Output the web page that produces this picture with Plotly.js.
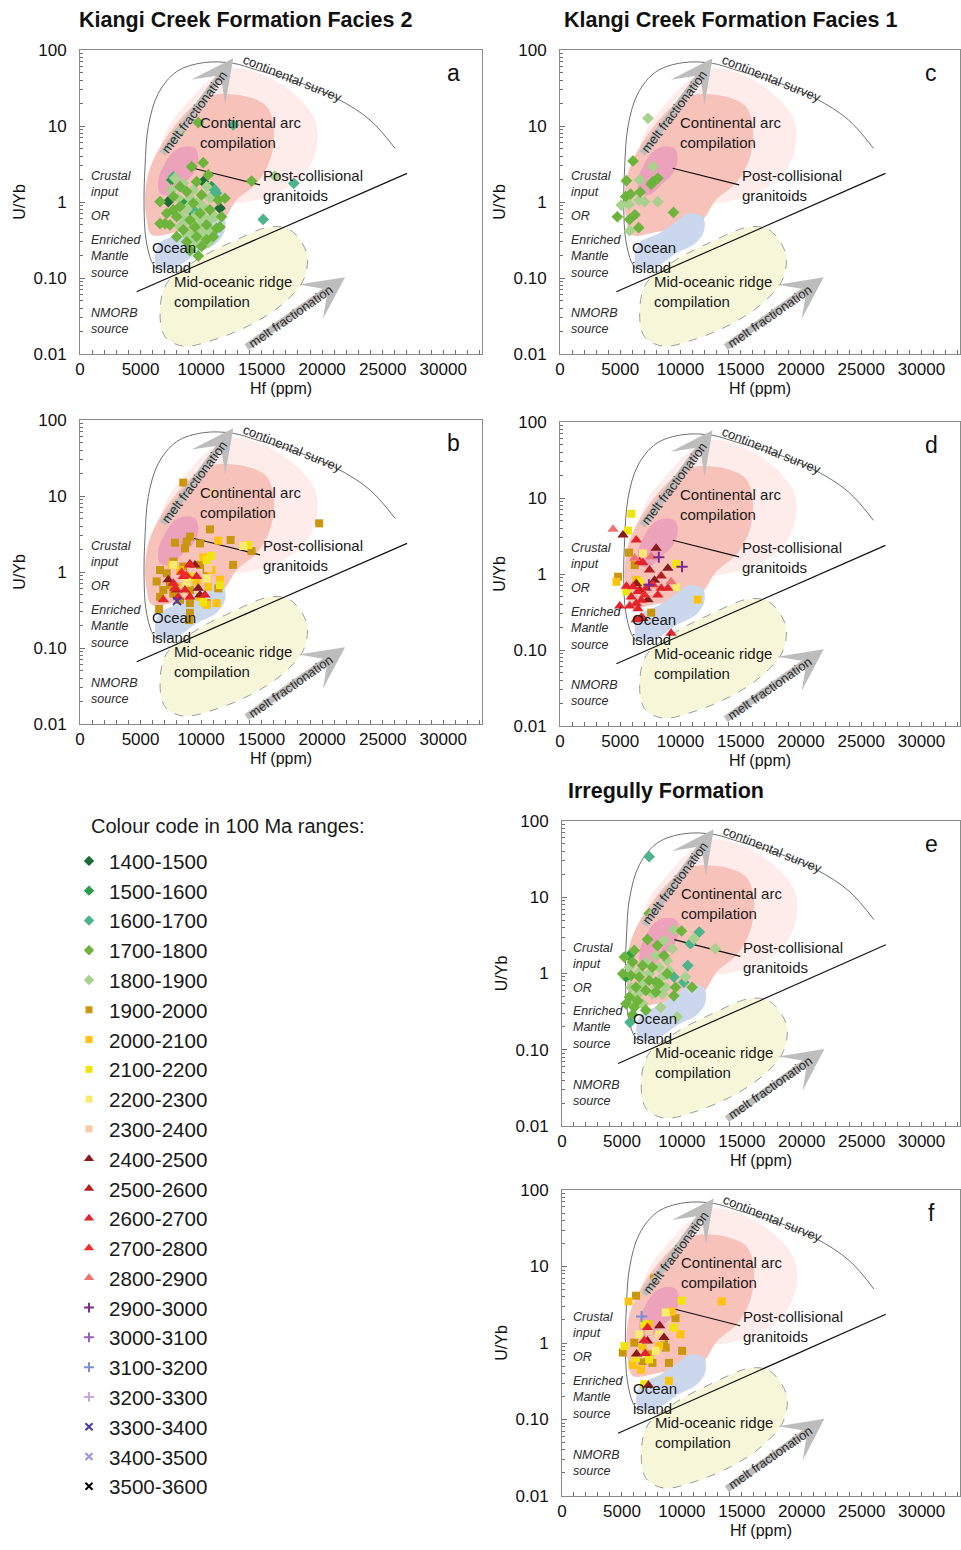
<!DOCTYPE html>
<html>
<head>
<meta charset="utf-8">
<script src="https://cdn.plot.ly/plotly-3.0.1.min.js"></script>
<style>html,body{margin:0;padding:0;background:#fff}</style>
</head>
<body>
<div id="chart" style="width:961px;height:1550px"></div>
<script>
// ---------------- age ranges (legend) ----------------
const ageRanges = ['1400-1500','1500-1600','1600-1700','1700-1800','1800-1900',
  '1900-2000','2000-2100','2100-2200','2200-2300','2300-2400',
  '2400-2500','2500-2600','2600-2700','2700-2800','2800-2900',
  '2900-3000','3000-3100','3100-3200','3200-3300','3300-3400','3400-3500','3500-3600'];

// ---------------- tick labels ----------------
const hfTicks = [0, 5000, 10000, 15000, 20000, 25000, 30000];
const uybTicks = [0.01, 0.1, 1, 10, 100];
const uybTickText = ['0.01', '0.10', '1', '10', '100'];

// ---------------- Panel a: Kiangi Creek Formation Facies 2 ----------------
const a1400_hf = [10180, 11560, 7290];
const a1400_uyb = [1.85, 0.83, 1.01];
const a1500_hf = [7570, 9080, 8530, 10870];
const a1500_uyb = [1.95, 0.79, 0.96, 1.59];
const a1600_hf = [12660, 17660, 15130, 11140, 11280, 10870, 9360, 7710];
const a1600_uyb = [10.3, 1.76, 0.59, 1.44, 1.30, 1.18, 0.79, 2.15];
const a1700_hf = [9770, 8200, 14170, 9770, 9220, 10180, 10590, 9630, 8260, 6610, 7710, 8810, 10040, 11420,
  11970, 7020, 7980, 9080, 9910, 10730, 11690, 8530, 9490, 10460, 11280, 7430, 8260, 9360, 7160, 8810,
  9630, 10460, 7980, 10040, 9080, 11010, 11560, 6610, 7710];
const a1700_uyb = [11.1, 8.4, 1.89, 0.195, 2.92, 3.29, 2.27, 1.85, 1.59, 1.01, 1.18, 1.37, 1.24, 1.06,
  1.12, 0.52, 0.64, 0.58, 0.71, 0.79, 0.64, 0.43, 0.47, 0.50, 0.45, 0.50, 0.87, 0.96, 0.71, 0.30,
  0.35, 0.32, 0.35, 0.26, 0.23, 0.35, 0.47, 0.52, 0.79];
const a1800_hf = [16090, 7840, 8530, 9360, 10460, 7570, 8120, 9080, 9770, 10730, 8810, 10180, 7840, 9490,
  10320, 11140, 8670, 9770, 10730, 9080, 10040, 10870, 8260, 9360, 10180, 8810, 9770, 10590, 9360, 8390, 9080];
const a1800_uyb = [2.20, 2.05, 1.76, 1.44, 1.59, 1.44, 1.12, 1.12, 1.01, 1.12, 0.79, 0.87, 0.71, 0.64,
  0.61, 0.64, 0.55, 0.52, 0.58, 0.43, 0.41, 0.41, 0.47, 0.35, 0.37, 0.37, 0.30, 0.29, 0.27, 0.64, 0.91];

// ---------------- Panel b ----------------
const b1900_hf = [9080, 8810, 7840, 8670, 9910, 6610, 7160, 6330, 7430, 6880, 7710, 8530, 9910, 10460, 6610,
  7710, 9080, 8260, 9080, 10460, 11420, 9080, 8530, 19750, 10730, 12440, 14170, 9000, 6530, 12640];
const b1900_uyb = [2.92, 2.51, 2.43, 2.05, 2.38, 1.06, 0.96, 0.75, 0.67, 0.58, 1.37, 1.18, 1.24, 1.06, 0.47,
  0.52, 0.58, 0.43, 0.39, 0.39, 0.61, 0.29, 15.0, 4.37, 3.64, 2.64, 1.89, 0.233, 0.326, 1.24];
const b2000_hf = [11420, 10180, 8260, 9630, 10590, 11280, 10460, 9910, 7980, 10870, 11560, 7570];
const b2000_uyb = [2.58, 1.56, 1.06, 0.75, 0.64, 0.39, 0.37, 0.47, 0.64, 1.06, 0.79, 1.24];
const b2100_hf = [13890, 10810, 10460, 9080, 10180, 11560];
const b2100_uyb = [2.27, 1.63, 1.44, 0.87, 0.40, 0.67];
const b2200_hf = [13480, 7710, 8810, 10460];
const b2200_uyb = [2.20, 1.24, 0.72, 0.82];
const b2300_hf = [10950, 10590, 8530];
const b2300_uyb = [11.1, 1.12, 0.52];
const b2400_hf = [7290, 9490, 9770, 9910];
const b2400_uyb = [0.79, 1.24, 0.61, 0.50];
const b2500_hf = [9080, 7980];
const b2500_uyb = [1.27, 0.58];
const b2600_hf = [9080, 8530, 7840, 7710, 8670, 9630, 10320, 6880, 8120, 9080];
const b2600_uyb = [1.24, 0.87, 0.61, 0.71, 0.58, 0.87, 0.50, 0.43, 0.47, 0.47];
const b2700_hf = [8810, 8390];
const b2700_uyb = [0.90, 0.99];
const b3300_hf = [8010];
const b3300_uyb = [0.415];

// ---------------- Panel c: Klangi Creek Formation Facies 1 ----------------
const c1700_hf = [6060, 5510, 5450, 5860, 6660, 7710, 7570, 8120, 4760, 5780, 6220, 6530, 9420];
const c1700_uyb = [3.47, 1.91, 1.18, 1.27, 1.35, 1.85, 1.71, 2.05, 0.64, 0.59, 0.68, 0.46, 0.73];
const c1800_hf = [7300, 7710, 6610, 5090, 5730, 6550, 7020, 8120, 5780];
const c1800_uyb = [12.6, 2.92, 1.95, 0.91, 0.93, 1.06, 1.01, 1.01, 0.42];

// ---------------- Panel d ----------------
const d1900_hf = [5730, 6200, 4820, 7570];
const d1900_uyb = [1.91, 1.31, 0.92, 0.31];
const d2000_hf = [4680, 11430, 6330];
const d2000_uyb = [0.79, 0.46, 0.83];
const d2100_hf = [5920, 5640, 9640, 5510, 6610];
const d2100_uyb = [6.2, 3.72, 1.36, 0.59, 0.79];
const d2200_hf = [9640, 6880];
const d2200_uyb = [0.67, 1.87];
const d2400_hf = [5230, 7980, 8950, 7850, 7300, 6330, 6880];
const d2400_uyb = [3.26, 2.18, 1.19, 0.83, 0.46, 0.75, 0.26];
const d2500_hf = [7430, 8400, 6610];
const d2500_uyb = [1.13, 0.94, 0.62];
const d2600_hf = [6330, 6610, 6880, 5510, 6060, 5920, 6470, 7160, 8400, 8950, 8120, 6750, 6330, 4960, 5780, 6470, 6750, 6330, 9220];
const d2600_uyb = [2.80, 1.45, 1.41, 0.69, 0.68, 0.50, 0.59, 0.65, 0.65, 0.65, 0.53, 0.45, 0.41, 0.38, 0.38, 0.35, 0.27, 0.25, 0.166];
const d2700_hf = [7710, 7020];
const d2700_uyb = [0.72, 0.53];
const d2800_hf = [4400, 7570, 9220, 6200];
const d2800_uyb = [3.87, 1.69, 0.79, 1.61];
const d2900_hf = [8200, 10130, 7380];
const d2900_uyb = [1.66, 1.25, 0.72];

// ---------------- Panel e: Irregully Formation ----------------
const e1500_hf = [5620, 5340];
const e1500_uyb = [1.72, 0.90];
const e1600_hf = [7270, 11450, 10710, 10490, 9330, 10160, 5670];
const e1600_uyb = [34.0, 3.50, 2.46, 1.27, 0.90, 0.77, 0.229];
const e1700_hf = [7270, 9970, 7130, 7960, 8510, 6030, 5200, 5890, 6720, 7540, 5070, 5750, 6440, 7270, 8100,
  8780, 9470, 10850, 6170, 6990, 7820, 5620, 6310, 5340, 6030, 6990, 5890, 7820, 9330];
const e1700_uyb = [6.1, 3.61, 2.80, 2.33, 1.72, 2.01, 1.64, 1.41, 1.27, 1.21, 0.99, 0.94, 0.90, 0.81, 0.73,
  0.99, 0.66, 0.66, 0.66, 0.60, 0.57, 0.49, 0.44, 0.40, 0.36, 0.33, 0.29, 0.77, 0.51];
const e1800_hf = [9330, 8510, 10990, 12780, 9200, 7820, 8780, 6990, 8100, 8920, 6440, 7270, 8370, 5620, 10300,
  7820, 8650, 6720, 6310, 7540, 8370, 5750, 6720, 8230, 9610, 5890];
const e1800_uyb = [3.76, 2.72, 2.86, 2.11, 2.11, 1.72, 1.48, 1.41, 1.21, 1.09, 1.04, 0.99, 0.90, 1.21, 0.90,
  0.66, 0.66, 0.73, 0.54, 0.54, 0.54, 0.66, 0.40, 0.36, 0.27, 0.44];

// ---------------- Panel f ----------------
const f1900_hf = [6170, 7680, 9470, 5070, 10020, 8650, 8510, 7270, 8920, 7540, 6720, 6030];
const f1900_uyb = [4.15, 7.0, 2.11, 0.75, 0.79, 0.87, 1.06, 0.71, 0.55, 0.55, 0.58, 1.01];
const f2000_hf = [5560, 13330, 7270, 9880, 6720, 8100, 5890, 8920, 6580, 9140];
const f2000_uyb = [3.50, 3.50, 1.76, 1.30, 0.87, 0.91, 0.52, 0.32, 0.45, 2.58];
const f2100_hf = [9970, 6860, 9330, 5200, 7270, 6860, 6170];
const f2100_uyb = [3.57, 1.76, 1.59, 0.91, 0.61, 0.29, 0.64];
const f2200_hf = [8650, 6440, 8100, 7820];
const f2200_uyb = [2.51, 1.30, 1.30, 0.79];
const f2300_hf = [7270, 8230, 6580];
const f2300_uyb = [1.44, 1.18, 0.71];
const f2400_hf = [8150, 8510, 6220, 7130, 7210];
const f2400_uyb = [1.68, 1.18, 0.72, 1.06, 0.28];
const f2600_hf = [7130, 6940, 6860];
const f2600_uyb = [1.59, 0.73, 1.08];
const f3100_hf = [6640];
const f3100_uyb = [2.22];

// ---------------- reference fields (Hf ppm, U/Yb) ----------------
const arcOuter_hf  = [12660, 15140, 17620, 19410, 19550, 18580, 16790, 14590, 12110, 10190, 8260, 6610, 7160, 8810, 10740, 12660];
const arcOuter_uyb = [57.4, 46.9, 26.9, 12.0, 5.34, 2.38, 1.44, 1.06, 0.96, 1.17, 1.95, 3.95, 8.86, 19.9, 40.3, 57.4];
const arc_hf  = [11010, 13770, 15420, 16020, 15690, 14590, 12940, 11840, 10740, 8260, 5920, 5510, 5370, 5640, 6470, 7980, 9640, 11010];
const arc_uyb = [25.6, 24.3, 18.0, 8.85, 3.57, 1.76, 1.06, 0.58, 0.47, 0.41, 0.37, 0.58, 1.17, 2.38, 4.83, 10.8, 19.9, 25.6];
const postColl_hf  = [8530, 9500, 9770, 9360, 8530, 7430, 6610, 6470, 6880, 7710, 8530];
const postColl_uyb = [5.34, 5.08, 3.57, 2.38, 1.76, 1.24, 1.30, 1.95, 2.92, 4.59, 5.34];
const ocean_hf  = [10740, 11840, 11980, 11290, 9640, 7980, 6470, 6190, 6610, 8260, 9640, 10740];
const ocean_uyb = [0.71, 0.64, 0.43, 0.29, 0.211, 0.141, 0.134, 0.191, 0.29, 0.39, 0.55, 0.71];
const mor_hf  = [15690, 17340, 18720, 18450, 16790, 14320, 11010, 8530, 7020, 6610, 7160, 9640, 12390, 15690];
const mor_uyb = [0.47, 0.43, 0.211, 0.094, 0.0464, 0.0253, 0.0153, 0.0127, 0.0169, 0.0343, 0.085, 0.173, 0.29, 0.47];
const survey_hf  = [26020, 23950, 21200, 17890, 14590, 12660, 10190, 7980, 6470, 5640, 5370, 5290, 5450, 5920, 6390];
const survey_uyb = [5.08, 12.0, 23.1, 38.3, 54.6, 66.8, 68.1, 51.9, 26.9, 9.80, 2.92, 0.87, 0.32, 0.164, 0.127];
const divider_hf  = [4680, 27010];
const divider_uyb = [0.066, 2.38];
const pointer_hf  = [9360, 14870];
const pointer_uyb = [2.78, 1.68];
const meltUp_hf  = [6745, 12660];   // tail, head
const meltUp_uyb = [4.15, 77.7];
const meltLow_hf  = [13630, 21890];
const meltLow_uyb = [0.0119, 0.102];

// ---------------- styles ----------------
const FONT = 'Arial, "Liberation Sans", Helvetica, sans-serif';
const ageStyle = {
  '1400-1500': {symbol: 'diamond', color: '#1d6a36'},
  '1500-1600': {symbol: 'diamond', color: '#2b9c49'},
  '1600-1700': {symbol: 'diamond', color: '#4cb48b'},
  '1700-1800': {symbol: 'diamond', color: '#6cb43c'},
  '1800-1900': {symbol: 'diamond', color: '#a8d18d'},
  '1900-2000': {symbol: 'square', color: '#c9960d'},
  '2000-2100': {symbol: 'square', color: '#ffc20e'},
  '2100-2200': {symbol: 'square', color: '#f0e40c'},
  '2200-2300': {symbol: 'square', color: '#f6ea6f'},
  '2300-2400': {symbol: 'square', color: '#fbcaa2'},
  '2400-2500': {symbol: 'triangle-up', color: '#8a1a1a'},
  '2500-2600': {symbol: 'triangle-up', color: '#b41f20'},
  '2600-2700': {symbol: 'triangle-up', color: '#e3232a'},
  '2700-2800': {symbol: 'triangle-up', color: '#ef2d2d'},
  '2800-2900': {symbol: 'triangle-up', color: '#ee7272'},
  '2900-3000': {symbol: 'cross-thin', color: '#7a2b8d'},
  '3000-3100': {symbol: 'cross-thin', color: '#9a5fb7'},
  '3100-3200': {symbol: 'cross-thin', color: '#7b8cd3'},
  '3200-3300': {symbol: 'cross-thin', color: '#c6a7dd'},
  '3300-3400': {symbol: 'x-thin', color: '#4a3aa2'},
  '3400-3500': {symbol: 'x-thin', color: '#9a92d8'},
  '3500-3600': {symbol: 'x-thin', color: '#000000'}
};

const W = 961, H = 1550;
const panels = [
  {key: 'a', xa: 'x',  ya: 'y',  l: 80,  r: 482, t: 50,   b: 354,
   groups: [['1400-1500', a1400_hf, a1400_uyb], ['1500-1600', a1500_hf, a1500_uyb], ['1600-1700', a1600_hf, a1600_uyb],
            ['1800-1900', a1800_hf, a1800_uyb], ['1700-1800', a1700_hf, a1700_uyb]]},
  {key: 'b', xa: 'x2', ya: 'y2', l: 80,  r: 482, t: 420,  b: 724,
   groups: [['1900-2000', b1900_hf, b1900_uyb], ['2000-2100', b2000_hf, b2000_uyb], ['2100-2200', b2100_hf, b2100_uyb],
            ['2200-2300', b2200_hf, b2200_uyb], ['2300-2400', b2300_hf, b2300_uyb], ['2400-2500', b2400_hf, b2400_uyb],
            ['2500-2600', b2500_hf, b2500_uyb], ['2600-2700', b2600_hf, b2600_uyb], ['2700-2800', b2700_hf, b2700_uyb],
            ['3300-3400', b3300_hf, b3300_uyb]]},
  {key: 'c', xa: 'x3', ya: 'y3', l: 560, r: 960, t: 50,   b: 354,
   groups: [['1800-1900', c1800_hf, c1800_uyb], ['1700-1800', c1700_hf, c1700_uyb]]},
  {key: 'd', xa: 'x4', ya: 'y4', l: 560, r: 960, t: 422,  b: 726,
   groups: [['1900-2000', d1900_hf, d1900_uyb], ['2000-2100', d2000_hf, d2000_uyb], ['2100-2200', d2100_hf, d2100_uyb],
            ['2200-2300', d2200_hf, d2200_uyb], ['2400-2500', d2400_hf, d2400_uyb], ['2500-2600', d2500_hf, d2500_uyb],
            ['2600-2700', d2600_hf, d2600_uyb], ['2700-2800', d2700_hf, d2700_uyb], ['2800-2900', d2800_hf, d2800_uyb],
            ['2900-3000', d2900_hf, d2900_uyb]]},
  {key: 'e', xa: 'x5', ya: 'y5', l: 562, r: 960, t: 821,  b: 1126,
   groups: [['1500-1600', e1500_hf, e1500_uyb], ['1600-1700', e1600_hf, e1600_uyb],
            ['1800-1900', e1800_hf, e1800_uyb], ['1700-1800', e1700_hf, e1700_uyb]]},
  {key: 'f', xa: 'x6', ya: 'y6', l: 562, r: 960, t: 1190, b: 1496,
   groups: [['1900-2000', f1900_hf, f1900_uyb], ['2000-2100', f2000_hf, f2000_uyb], ['2100-2200', f2100_hf, f2100_uyb],
            ['2200-2300', f2200_hf, f2200_uyb], ['2300-2400', f2300_hf, f2300_uyb], ['2400-2500', f2400_hf, f2400_uyb],
            ['2600-2700', f2600_hf, f2600_uyb], ['3100-3200', f3100_hf, f3100_uyb]]}
];

function markerFor(age, size) {
  const s = ageStyle[age];
  const thin = s.symbol.indexOf('thin') >= 0;
  const sz = s.symbol === 'triangle-up' ? size + 2 : (s.symbol === 'diamond' ? size + 1 : size);
  return {symbol: s.symbol, color: s.color, size: sz,
          line: thin ? {width: 2, color: s.color} : {width: 0}};
}

const traces = [];
// legend entries (one per age range) - no plotted points
ageRanges.forEach(age => {
  traces.push({type: 'scatter', mode: 'markers', x: [null], y: [null], name: age,
    marker: markerFor(age, 7), showlegend: true, hoverinfo: 'skip'});
});

panels.forEach(p => {
  const base = {type: 'scatter', xaxis: p.xa, yaxis: p.ya, showlegend: false, hoverinfo: 'skip'};
  const field = (hf, uyb, fill, line) => traces.push(Object.assign({}, base, {
    x: hf, y: uyb, mode: 'lines', fill: 'toself', fillcolor: fill,
    line: Object.assign({shape: 'spline', smoothing: 1.0}, line)}));
  field(arcOuter_hf, arcOuter_uyb, '#fdece9', {width: 0, color: 'rgba(0,0,0,0)'});
  field(arc_hf, arc_uyb, '#f6c2ba', {width: 0, color: 'rgba(0,0,0,0)'});
  field(postColl_hf, postColl_uyb, '#eba2ba', {width: 0, color: 'rgba(0,0,0,0)'});
  field(ocean_hf, ocean_uyb, '#cbd7ec', {width: 0, color: 'rgba(0,0,0,0)'});
  field(mor_hf, mor_uyb, '#f8f6d9', {width: 1, color: '#9c9c9c', dash: 'dash'});
  traces.push(Object.assign({}, base, {x: survey_hf, y: survey_uyb, mode: 'lines',
    line: {shape: 'spline', smoothing: 1.0, width: 1, color: '#6e6e6e'}}));
  traces.push(Object.assign({}, base, {x: divider_hf, y: divider_uyb, mode: 'lines',
    line: {width: 1.2, color: '#111'}}));
  traces.push(Object.assign({}, base, {x: pointer_hf, y: pointer_uyb, mode: 'lines',
    line: {width: 1.2, color: '#111'}}));
  p.groups.forEach(g => {
    traces.push(Object.assign({}, base, {x: g[1], y: g[2], mode: 'markers', name: g[0],
      marker: markerFor(g[0], 8)}));
  });
});

const layout = {
  width: W, height: H, margin: {l: 0, r: 0, t: 0, b: 0},
  paper_bgcolor: '#fff', plot_bgcolor: '#fff',
  font: {family: FONT, color: '#111'},
  showlegend: true,
  legend: {x: 69 / W, xanchor: 'left', y: 1 - 841 / H, yanchor: 'top',
    font: {family: FONT, size: 20.6, color: '#1a1a1a'}, bgcolor: 'rgba(0,0,0,0)',
    tracegroupgap: 0, itemclick: false, itemdoubleclick: false},
  annotations: [],
  hovermode: false
};

const titleFont = {family: FONT, size: 21.5, color: '#111'};
layout.annotations.push(
  {xref: 'paper', yref: 'paper', x: 245 / W, y: 1 - 20 / H, text: '<b>Kiangi Creek Formation Facies 2</b>', showarrow: false, font: titleFont, xanchor: 'center', yanchor: 'middle'},
  {xref: 'paper', yref: 'paper', x: 730 / W, y: 1 - 20 / H, text: '<b>Klangi Creek Formation Facies 1</b>', showarrow: false, font: titleFont, xanchor: 'center', yanchor: 'middle'},
  {xref: 'paper', yref: 'paper', x: 666 / W, y: 1 - 791 / H, text: '<b>Irregully Formation</b>', showarrow: false, font: titleFont, xanchor: 'center', yanchor: 'middle'},
  {xref: 'paper', yref: 'paper', x: 89 / W, y: 1 - 826 / H, text: 'Colour code in 100 Ma ranges:', showarrow: false, font: {family: FONT, size: 20, color: '#1a1a1a'}, xanchor: 'left', yanchor: 'middle'}
);

panels.forEach((p, i) => {
  const n = i === 0 ? '' : String(i + 1);
  layout['xaxis' + n] = {
    domain: [p.l / W, p.r / W], anchor: p.ya, range: [0, 33200],
    showline: true, mirror: true, linecolor: '#8a8a8a', linewidth: 1,
    showgrid: false, zeroline: false, tickmode: 'array', tickvals: hfTicks, tickformat: 'd',
    ticks: 'inside', ticklen: 4, tickcolor: '#6f6f6f',
    minor: {ticks: 'inside', ticklen: 4, dtick: 1000, tick0: 0, tickcolor: '#6f6f6f', showgrid: false},
    tickfont: {family: FONT, size: 17, color: '#111'},
    title: {text: 'Hf (ppm)', font: {family: FONT, size: 16, color: '#111'}, standoff: 4},
    fixedrange: true
  };
  layout['yaxis' + n] = {
    domain: [1 - p.b / H, 1 - p.t / H], anchor: p.xa, type: 'log', range: [-2, 2],
    showline: true, mirror: true, linecolor: '#8a8a8a', linewidth: 1,
    showgrid: false, zeroline: false, tickmode: 'array', tickvals: uybTicks, ticktext: uybTickText,
    ticks: 'inside', ticklen: 5, tickcolor: '#6f6f6f', ticklabelstandoff: 9,
    minor: {ticks: 'inside', ticklen: 3, dtick: 'D1', tickcolor: '#6f6f6f', showgrid: false},
    tickfont: {family: FONT, size: 17, color: '#111'},
    title: {text: 'U/Yb', font: {family: FONT, size: 16, color: '#111'}, standoff: 3},
    fixedrange: true
  };

  const xd = p.xa + ' domain', yd = p.ya + ' domain';
  const txt = (text, x, y, extra) => layout.annotations.push(Object.assign({
    xref: xd, yref: yd, x: x, y: y, text: text, showarrow: false, xanchor: 'left', yanchor: 'middle',
    align: 'left', font: {family: FONT, size: 15, color: '#1a1a1a'}}, extra || {}));
  const arrow = (hf, uyb) => layout.annotations.push({
    xref: p.xa, yref: p.ya, axref: p.xa, ayref: p.ya,
    x: hf[1], y: Math.log10(uyb[1]), ax: hf[0], ay: Math.log10(uyb[0]),
    text: '', showarrow: true, arrowhead: 3, arrowsize: 1.0, arrowwidth: 7,
    arrowcolor: '#bdbdbd', standoff: 0, startstandoff: 0});

  arrow(meltUp_hf, meltUp_uyb);
  arrow(meltLow_hf, meltLow_uyb);
  const rot = {family: FONT, size: 13, color: '#2a2a2a'};
  const small = {family: FONT, size: 12.5, color: '#2a2a2a'};
  txt('melt fractionation', 0.286, 0.797, {xanchor: 'center', textangle: -53, font: rot});
  txt('melt fractionation', 0.524, 0.125, {xanchor: 'center', textangle: -35, font: rot});
  txt('continental survey', 0.529, 0.907, {xanchor: 'center', textangle: 22, font: rot});
  txt('Continental arc<br>compilation', 0.294, 0.729);
  txt('Post-collisional<br>granitoids', 0.450, 0.553);
  txt('Ocean<br>island', 0.174, 0.319);
  txt('Mid-oceanic ridge<br>compilation', 0.229, 0.207);
  txt('<i>Crustal<br>input</i>', 0.022, 0.558, {font: small});
  txt('<i>OR</i>', 0.022, 0.454, {font: small});
  txt('<i>Enriched<br>Mantle<br>source</i>', 0.022, 0.322, {font: small});
  txt('<i>NMORB<br>source</i>', 0.022, 0.109, {font: small});
  txt(p.key, 0.928, 0.925, {xanchor: 'center', font: {family: FONT, size: 23, color: '#111'}});
});

Plotly.newPlot('chart', traces, layout, {staticPlot: true, displayModeBar: false});
</script>
</body>
</html>
